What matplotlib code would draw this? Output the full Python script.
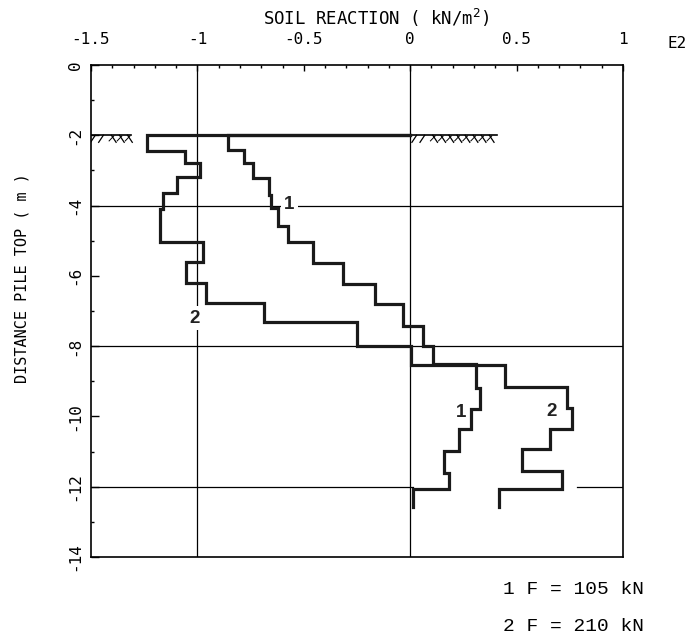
import matplotlib
matplotlib.use("Agg")
import matplotlib.pyplot as plt
import numpy as np
from matplotlib.ticker import MultipleLocator, FuncFormatter

# Step profiles of soil reaction along the pile.
# depth_*: layer boundaries (m below pile top, negative downwards)
# react_*: soil reaction in each layer (units of E2 kN/m2)
depth_1 = [-2.00, -2.42, -2.80, -3.22, -3.70, -4.08, -4.58, -5.05, -5.64, -6.23,
           -6.80, -7.42, -8.00, -8.51, -9.20, -9.79, -10.37, -10.98, -11.60,
           -12.07, -12.57]
react_1 = [-0.854, -0.779, -0.740, -0.665, -0.654, -0.623, -0.576, -0.459, -0.316,
           -0.164, -0.034, 0.062, 0.109, 0.310, 0.329, 0.286, 0.227, 0.161, 0.183,
           0.015]

depth_2 = [-2.00, -2.45, -2.80, -3.20, -3.63, -4.11, -5.03, -5.60, -6.20, -6.76,
           -7.32, -8.00, -8.54, -9.17, -9.77, -10.37, -10.94, -11.55, -12.07,
           -12.57]
react_2 = [-1.236, -1.060, -0.989, -1.095, -1.161, -1.178, -0.973, -1.055, -0.961,
           -0.685, -0.250, 0.003, 0.446, 0.736, 0.762, 0.657, 0.524, 0.712, 0.415]

load_labels = ["1 F = 105 kN", "2 F = 210 kN"]
x_ticks = [-1.5, -1.0, -0.5, 0.0, 0.5, 1.0]
y_ticks = [0, -2, -4, -6, -8, -10, -12, -14]

ground_level = -2.0
ground_hatch_left = (-1.5, -1.31)
ground_hatch_right = (0.01, 0.41)
grid_x = [-1.0, 0.0]
grid_y_full = [-4.0, -8.0]
grid_y12_parts = [(-1.5, 0.015), (0.784, 1.0)]

PLOT_FONT = "DejaVu Sans Mono"


def profile(depths, values, start=0.0):
    xs, ys = [start], [depths[0]]
    for i, v in enumerate(values):
        xs += [v, v]
        ys += [depths[i], depths[i + 1]]
    return xs, ys


fig = plt.figure(figsize=(6.92, 6.38), dpi=100)
ax = fig.add_axes([0.1315, 0.1270, 0.7688, 0.7711])
ax.set_xlim(-1.5, 1.0)
ax.set_ylim(-14, 0)

# grid lines
for gx in grid_x:
    ax.axvline(gx, color="black", lw=0.9, zorder=1)
for gy in grid_y_full:
    ax.axhline(gy, color="black", lw=0.9, zorder=1)
for x0, x1 in grid_y12_parts:
    ax.plot([x0, x1], [-12, -12], color="black", lw=0.9, zorder=1)

# ground surface symbol: line with short slanted strokes underneath
for x0, x1 in (ground_hatch_left, ground_hatch_right):
    ax.plot([x0, x1], [ground_level, ground_level], color="black", lw=1.2, zorder=2)
    starts = np.arange(x0 + 0.02, x1, 0.038)
    for i, xs in enumerate(starts):
        lean = -0.022 if i < 2 else 0.022
        ax.plot([xs, xs + lean], [ground_level, ground_level - 0.2],
                color="black", lw=0.9, zorder=2)
        if i >= 2:
            ax.plot([xs + 0.011, xs - 0.011], [ground_level - 0.02, ground_level - 0.16],
                    color="black", lw=0.7, zorder=2)

# soil reaction profiles
for d, r in ((depth_1, react_1), (depth_2, react_2)):
    xs, ys = profile(d, r)
    ax.plot(xs, ys, color="#1a1a1a", lw=2.3, solid_joinstyle="miter", zorder=3)

# curve numbers
label_kw = dict(family="Liberation Sans", fontsize=13.5, fontweight="bold",
                ha="center", va="center", zorder=4, color="#222222")
white_box = dict(facecolor="white", edgecolor="none", pad=2.5)
ax.text(-0.568, -3.98, "1", bbox=white_box, **label_kw)
ax.text(-1.014, -7.20, "2", bbox=white_box, **label_kw)
ax.text(0.239, -9.90, "1", **label_kw)
ax.text(0.662, -9.85, "2", **label_kw)

# axes styling
for s in ax.spines.values():
    s.set_linewidth(1.2)
ax.xaxis.set_ticks_position("top")
ax.xaxis.set_label_position("top")
ax.set_xticks(x_ticks)
ax.xaxis.set_minor_locator(MultipleLocator(0.1))
ax.xaxis.set_major_formatter(FuncFormatter(lambda v, p: f"{v:g}"))
ax.tick_params(axis="x", which="major", direction="in", length=4, width=1.0,
               pad=13, labelsize=11.5, top=True, bottom=False)
ax.tick_params(axis="x", which="minor", direction="in", length=2, width=1.0,
               top=True, bottom=False)
ax.set_yticks(y_ticks)
ax.yaxis.set_minor_locator(MultipleLocator(1))
ax.yaxis.set_major_formatter(FuncFormatter(lambda v, p: f"{v:g}"))
ax.tick_params(axis="y", which="major", direction="in", length=6, width=1.0,
               pad=6, labelsize=11.5, left=True, right=False)
ax.tick_params(axis="y", which="minor", direction="in", length=2, width=1.0,
               left=True, right=False)
for lab in ax.get_xticklabels():
    lab.set_family(PLOT_FONT)
for lab in ax.get_yticklabels():
    lab.set_family(PLOT_FONT)
    lab.set_rotation(90)
    lab.set_va("center")

ax.text(0.536, 1.0955, "SOIL REACTION ( kN/m$^{2}$)", transform=ax.transAxes,
        ha="center", va="center", family=PLOT_FONT, fontsize=12.5)
ax.text(1.1015, 1.0447, "E2", transform=ax.transAxes, ha="center", va="center",
        family=PLOT_FONT, fontsize=11.5)
ax.text(-0.13, 0.567, "DISTANCE PILE TOP ( m )", transform=ax.transAxes,
        ha="center", va="center", rotation=90, family=PLOT_FONT, fontsize=11)

fig.text(0.727, 0.0768, load_labels[0], family="Liberation Mono", fontsize=14,
         ha="left", va="center")
fig.text(0.727, 0.0188, load_labels[1], family="Liberation Mono", fontsize=14,
         ha="left", va="center")

fig.savefig("out.png", dpi=100, facecolor="white")
